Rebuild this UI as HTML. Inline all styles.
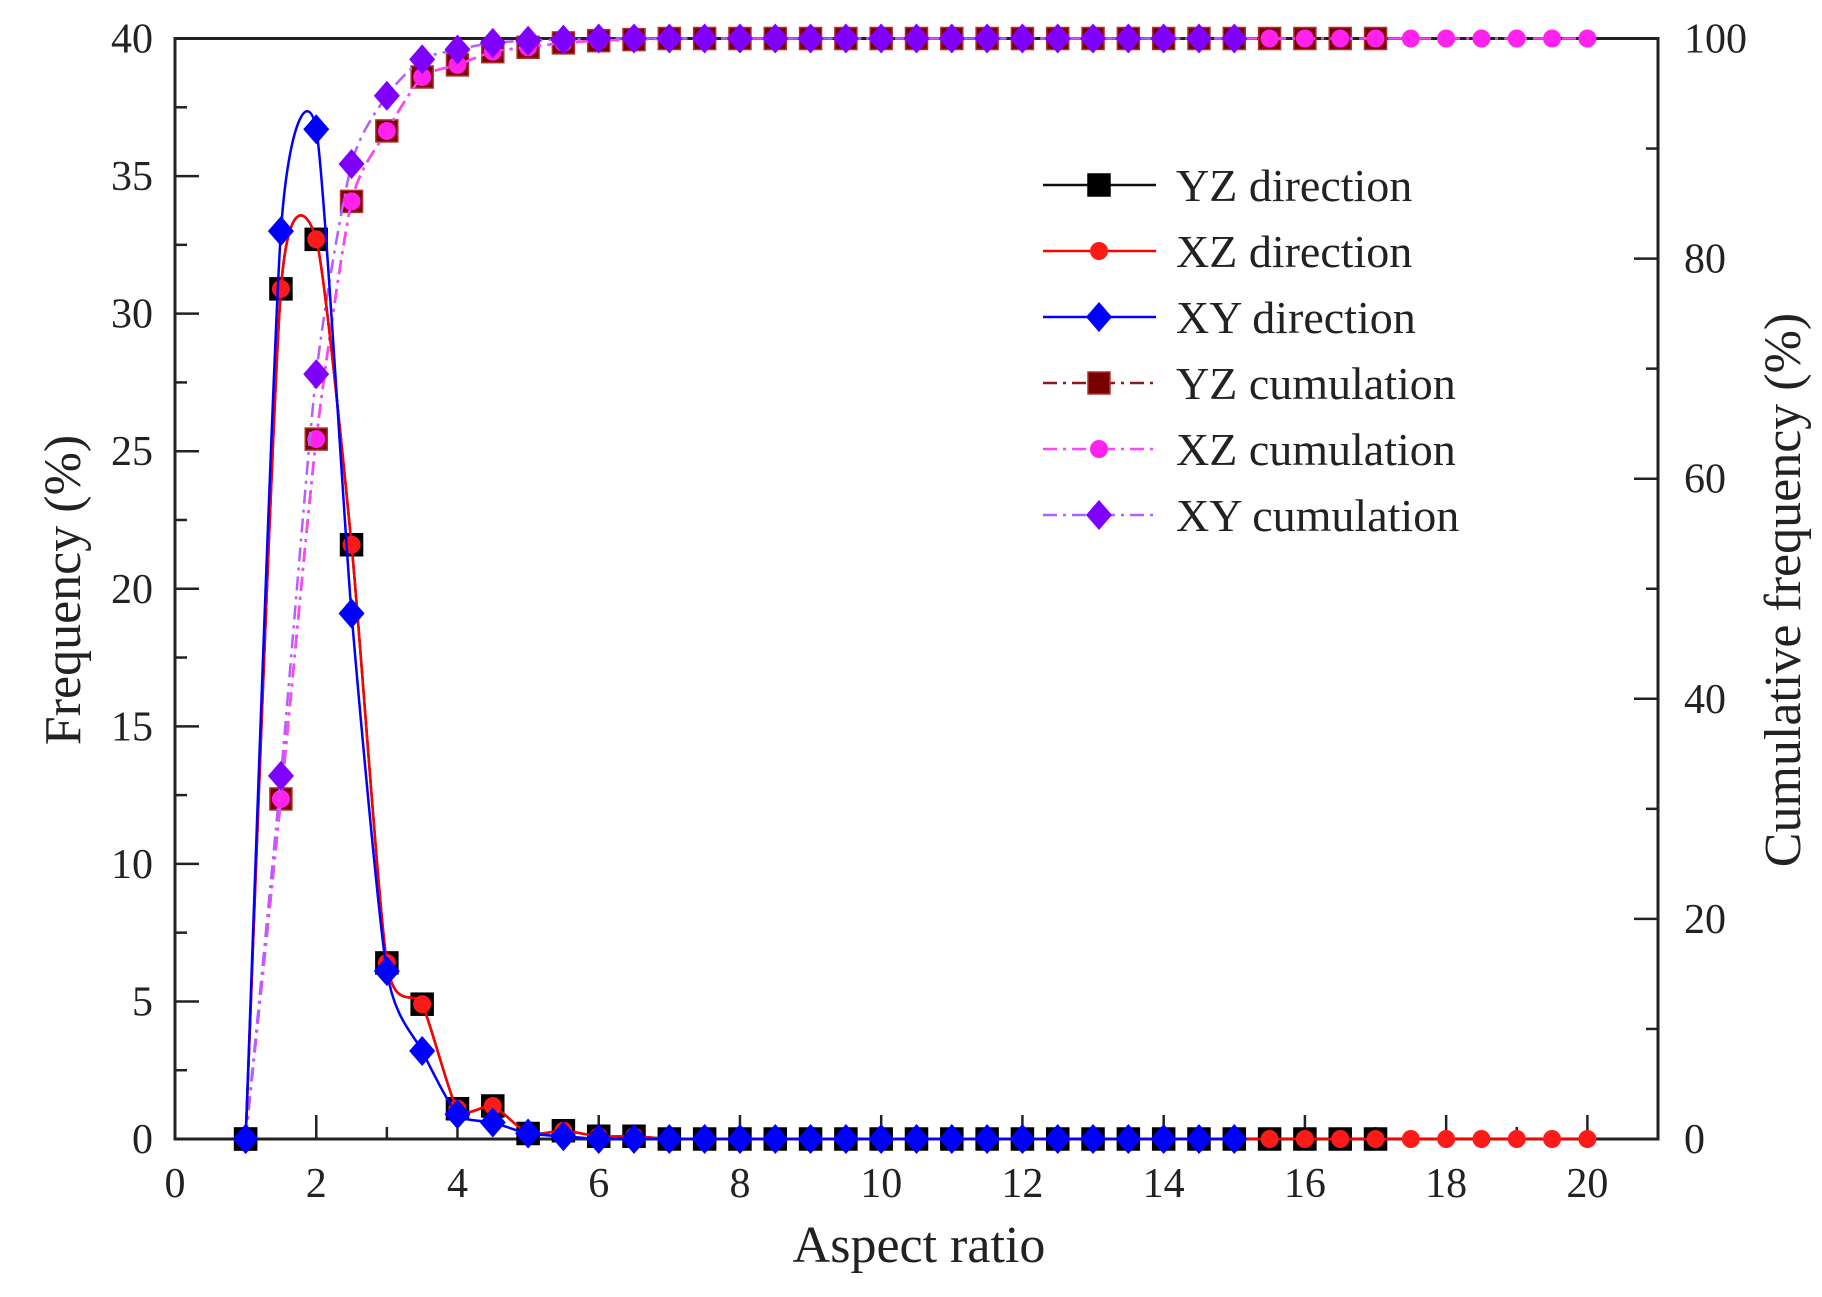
<!DOCTYPE html>
<html><head><meta charset="utf-8"><style>
html,body{margin:0;padding:0;background:#fff}
svg{display:block;font-family:"Liberation Serif",serif}
</style></head><body>
<svg id="chart" width="1822" height="1297" viewBox="0 0 1822 1297" xmlns="http://www.w3.org/2000/svg"></svg>
<script>
const xs = [1,1.5,2,2.5,3,3.5,4,4.5,5,5.5,6,6.5,7,7.5,8,8.5,9,9.5,10,10.5,11,11.5,12,12.5,13,13.5,14,14.5,15,15.5,16,16.5,17,17.5,18,18.5,19,19.5,20];
const yzFreq = [0,30.9,32.7,21.6,6.4,4.9,1.1,1.2,0.2,0.3,0.1,0.1,0,0,0,0,0,0,0,0,0,0,0,0,0,0,0,0,0,0,0,0,0];
const xzFreq = [0,30.9,32.7,21.6,6.4,4.9,1.1,1.2,0.2,0.3,0.1,0.1,0,0,0,0,0,0,0,0,0,0,0,0,0,0,0,0,0,0,0,0,0,0,0,0,0,0,0];
const xyFreq = [0,33,36.7,19.1,6.1,3.2,0.9,0.6,0.2,0.1,0,0,0,0,0,0,0,0,0,0,0,0,0,0,0,0,0,0,0];
const yzCum = [0,30.9,63.6,85.2,91.6,96.5,97.6,98.8,99.2,99.6,99.8,99.9,100,100,100,100,100,100,100,100,100,100,100,100,100,100,100,100,100,100,100,100,100];
const xzCum = [0,30.9,63.6,85.2,91.6,96.5,97.6,98.8,99.2,99.6,99.8,99.9,100,100,100,100,100,100,100,100,100,100,100,100,100,100,100,100,100,100,100,100,100,100,100,100,100,100,100];
const xyCum = [0,33,69.5,88.6,94.8,98.1,99.0,99.6,99.8,99.9,100,100,100,100,100,100,100,100,100,100,100,100,100,100,100,100,100,100,100];
const xTickLabels = [0,2,4,6,8,10,12,14,16,18,20];
const yLeftTicks = [0,5,10,15,20,25,30,35,40];
const yRightTicks = [0,20,40,60,80,100];
const legendLabels = ["YZ direction","XZ direction","XY direction","YZ cumulation","XZ cumulation","XY cumulation"];

const L=175,R=1658,T=38.5,B=1139;
const sx=v=>L+(v-0)/(21-0)*(R-L);
const syL=v=>B-v/40*(B-T);
const syR=v=>B-v/100*(B-T);
const svg=document.getElementById('chart');
const NS="http://www.w3.org/2000/svg";
function mk(tag,attrs,parent){const e=document.createElementNS(NS,tag);for(const k in attrs)e.setAttribute(k,attrs[k]);(parent||svg).appendChild(e);return e;}

const frame=mk('rect',{x:L,y:T,width:R-L,height:B-T,fill:'none',stroke:'#222','stroke-width':3});



for(let v=0;v<=21;v+=1){const major=v%2===0;const t=mk('line',{x1:sx(v),x2:sx(v),y1:B,y2:B-(major?24:12),stroke:'#222','stroke-width':2.5});

}
xTickLabels.forEach(v=>{const t=mk('text',{x:sx(v),y:B+58,'font-size':42,'text-anchor':'middle',fill:'#222'});t.textContent=v;

});
for(let v=0;v<=40;v+=2.5){const major=v%5===0;const t=mk('line',{x1:L,x2:L+(major?24:12),y1:syL(v),y2:syL(v),stroke:'#222','stroke-width':2.5});

}
yLeftTicks.forEach(v=>{const t=mk('text',{x:L-22,y:syL(v)+14,'font-size':42,'text-anchor':'end',fill:'#222'});t.textContent=v;

});
for(let v=0;v<=100;v+=10){const major=v%20===0;const t=mk('line',{x1:R,x2:R-(major?24:12),y1:syR(v),y2:syR(v),stroke:'#222','stroke-width':2.5});

}
yRightTicks.forEach(v=>{const t=mk('text',{x:R+26,y:syR(v)+14,'font-size':42,'text-anchor':'start',fill:'#222'});t.textContent=v;

});

let at=mk('text',{x:919,y:1262,'font-size':52,'text-anchor':'middle',fill:'#222'});at.textContent='Aspect ratio';


at=mk('text',{x:0,y:0,'font-size':52,'text-anchor':'middle',fill:'#222',transform:'translate(80,590) rotate(-90)'});at.textContent='Frequency (%)';


at=mk('text',{x:0,y:0,'font-size':52,'text-anchor':'middle',fill:'#222',transform:'translate(1800,590) rotate(-90)'});at.textContent='Cumulative frequency (%)';



function curve(pts){const k=9;let d=`M${pts[0][0]},${pts[0][1]}`;for(let i=0;i<pts.length-1;i++){const p0=pts[i-1]||pts[i],p1=pts[i],p2=pts[i+1],p3=pts[i+2]||p2;
const c1=[p1[0]+(p2[0]-p0[0])/k,p1[1]+(p2[1]-p0[1])/k],c2=[p2[0]-(p3[0]-p1[0])/k,p2[1]-(p3[1]-p1[1])/k];d+=` C${c1[0]},${c1[1]} ${c2[0]},${c2[1]} ${p2[0]},${p2[1]}`;}return d;}
function marker(g,shape,x,y,fill,stroke){
 if(shape==='sq')return mk('rect',{x:x-11,y:y-11,width:22,height:22,fill,stroke,'stroke-width':1.5},g);
 if(shape==='ci')return mk('circle',{cx:x,cy:y,r:9,fill,stroke:'none'},g);
 return mk('polygon',{points:`${x},${y-15} ${x+13},${y} ${x},${y+15} ${x-13},${y}`,fill,stroke:'none'},g);
}
const series=[
 {name:'yz-cumulation',vals:yzCum,sy:syR,color:'#8b1a1a',mfill:'#7a0000',mstroke:'#b03030',shape:'sq',dash:'14,6,3,6'},
 {name:'xz-cumulation',vals:xzCum,sy:syR,color:'#ff44ff',mfill:'#ff22ee',mstroke:'none',shape:'ci',dash:'14,6,3,6'},
 {name:'xy-cumulation',vals:xyCum,sy:syR,color:'#b060ff',mfill:'#8000ff',mstroke:'none',shape:'di',dash:'14,6,3,6'},
 {name:'yz-direction',vals:yzFreq,sy:syL,color:'#111',mfill:'#000',mstroke:'#000',shape:'sq',dash:null},
 {name:'xz-direction',vals:xzFreq,sy:syL,color:'#f00',mfill:'#ff1a1a',mstroke:'none',shape:'ci',dash:null},
 {name:'xy-direction',vals:xyFreq,sy:syL,color:'#00f',mfill:'#0000ff',mstroke:'none',shape:'di',dash:null},
];
series.forEach(s=>{
 const g=mk('g',{});
 
 
 const pts=s.vals.map((v,i)=>[sx(xs[i]),s.sy(v)]);
 const p=mk('path',{d:curve(pts),fill:'none',stroke:s.color,'stroke-width':2.5},g);
 if(s.dash)p.setAttribute('stroke-dasharray',s.dash);
 
 
 pts.forEach(q=>{const m=marker(g,s.shape,q[0],q[1],s.mfill,s.mstroke);
 
 });
});

const legOrder=[3,4,5,0,1,2];
const lg=mk('g',{});


legendLabels.forEach((lab,i)=>{
 const s=series[legOrder[i]];const y=185+i*66;
 const e=mk('g',{},lg);
 
 
 const ln=mk('line',{x1:1043,x2:1156,y1:y,y2:y,stroke:s.color,'stroke-width':2.5},e);
 if(s.dash)ln.setAttribute('stroke-dasharray',s.dash);
 marker(e,s.shape,1099,y,s.mfill,s.mstroke);
 const t=mk('text',{x:1176,y:y+16,'font-size':46,fill:'#222'},e);t.textContent=lab;
});
</script>
</body></html>
